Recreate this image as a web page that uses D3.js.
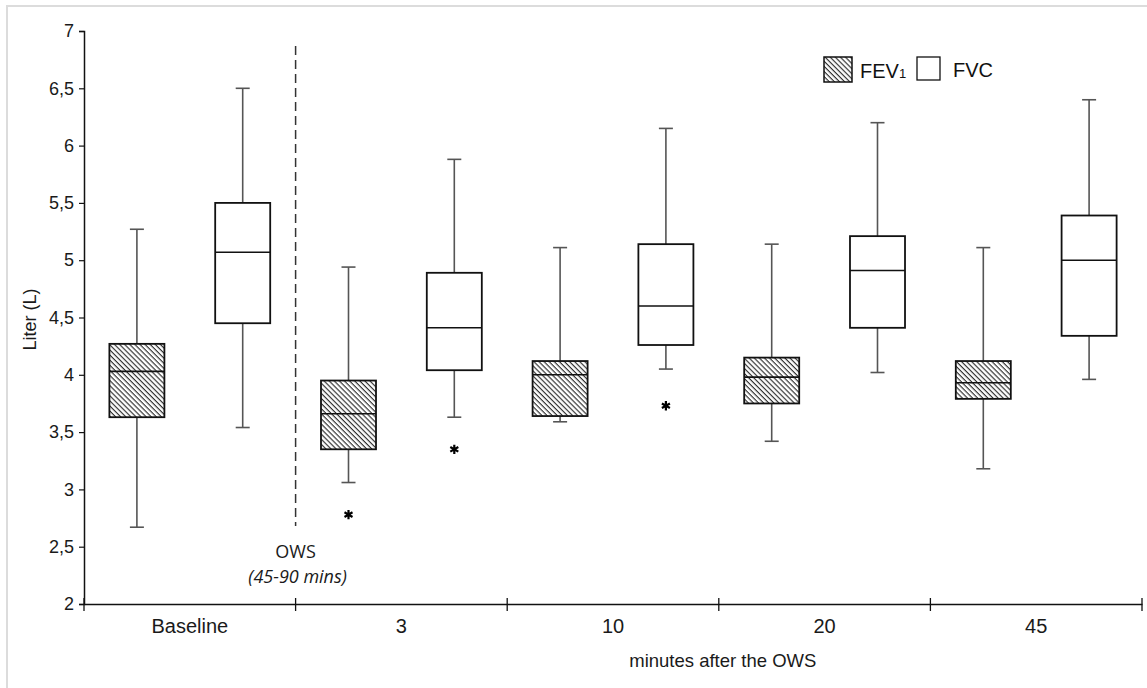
<!DOCTYPE html>
<html>
<head>
<meta charset="utf-8">
<script src="https://cdn.jsdelivr.net/npm/d3@7"></script>
<style>
	body { margin: 0; background: #fff; }
	svg { display: block; font-family: "Liberation Sans", Arial, sans-serif; }
</style>
</head>
<body>
<svg id="chart" width="1147" height="688"></svg>
<script>

// groups on the x axis
var groups = ['Baseline', '3', '10', '20', '45'];
var series = ['FEV1', 'FVC'];

// FEV1 box values (liter)
var fev1Min = [2.67, 3.06, 3.59, 3.42, 3.18];
var fev1Q1  = [3.63, 3.35, 3.64, 3.75, 3.79];
var fev1Med = [4.03, 3.66, 4.00, 3.98, 3.93];
var fev1Q3  = [4.27, 3.95, 4.12, 4.15, 4.12];
var fev1Max = [5.27, 4.94, 5.11, 5.14, 5.11];

// FVC box values (liter)
var fvcMin = [3.54, 3.63, 4.05, 4.02, 3.96];
var fvcQ1  = [4.45, 4.04, 4.26, 4.41, 4.34];
var fvcMed = [5.07, 4.41, 4.60, 4.91, 5.00];
var fvcQ3  = [5.50, 4.89, 5.14, 5.21, 5.39];
var fvcMax = [6.50, 5.88, 6.15, 6.20, 6.40];

// outliers shown as stars
var outGroup  = ['3', '3', '10'];
var outSeries = ['FEV1', 'FVC', 'FVC'];
var outValue  = [2.78, 3.35, 3.73];

var yTicks = [2, 2.5, 3, 3.5, 4, 4.5, 5, 5.5, 6, 6.5, 7];

var drawChart = function (id) {

	var svg = d3.select(id);

	var left = 84, right = 1142, top = 31, bottom = 604;

	// light frame round the figure
	svg.append('rect')
		.attr('x', 7).attr('y', 6)
		.attr('width', 1170).attr('height', 720)
		.attr('fill', 'none')
		.attr('stroke', '#dcdcdc')
		.attr('stroke-width', 2);

	var defs = svg.append('defs');
	var pat = defs.append('pattern')
		.attr('id', 'hatch')
		.attr('patternUnits', 'userSpaceOnUse')
		.attr('width', 3.6)
		.attr('height', 3.6)
		.attr('patternTransform', 'rotate(45)');
	pat.append('rect').attr('width', 3.6).attr('height', 3.6).attr('fill', 'white');
	pat.append('line')
		.attr('x1', 0).attr('y1', 0.6)
		.attr('x2', 3.6).attr('y2', 0.6)
		.attr('stroke', '#222')
		.attr('stroke-width', 1.1);

	var x = d3.scaleBand().domain(groups).range([left, right]).padding(0);
	var xs = d3.scaleBand().domain(series).range([0, x.bandwidth()])
		.paddingInner(0.48).paddingOuter(0.24);
	var y = d3.scaleLinear().domain([2, 7]).range([bottom, top]);

	// y axis
	var yAxis = d3.axisLeft(y)
		.tickValues(yTicks)
		.tickSize(5)
		.tickPadding(5)
		.tickFormat(function (d) { return String(d).replace('.', ','); });
	var gy = svg.append('g')
		.attr('transform', 'translate(' + left + ',0)')
		.call(yAxis);
	gy.select('.domain').attr('stroke', '#111').attr('stroke-width', 1.5);
	gy.selectAll('.tick line').attr('stroke', '#111').attr('stroke-width', 1.2);
	gy.selectAll('.tick text')
		.attr('font-size', 18)
		.attr('fill', '#1a1a1a')
		.attr('font-family', '"Liberation Sans", Arial, sans-serif');

	// x axis: labels at band centres, ticks at band edges
	var xAxis = d3.axisBottom(x).tickSize(0).tickPadding(15);
	var gx = svg.append('g')
		.attr('transform', 'translate(0,' + bottom + ')')
		.call(xAxis);
	gx.select('.domain').attr('stroke', '#111').attr('stroke-width', 1.5);
	gx.selectAll('.tick text')
		.attr('font-size', 20)
		.attr('fill', '#1a1a1a')
		.attr('font-family', '"Liberation Sans", Arial, sans-serif');

	var edges = groups.map(function (g) { return x(g); });
	edges.push(right);
	svg.append('g').selectAll('line')
		.data(edges)
		.enter()
		.append('line')
		.attr('x1', function (d) { return d; })
		.attr('x2', function (d) { return d; })
		.attr('y1', bottom - 6)
		.attr('y2', bottom + 7)
		.attr('stroke', '#111')
		.attr('stroke-width', 1.3);

	// dashed OWS separator
	svg.append('line')
		.attr('x1', x('3')).attr('x2', x('3'))
		.attr('y1', y(6.87)).attr('y2', y(2.68))
		.attr('stroke', '#333')
		.attr('stroke-width', 1.5)
		.attr('stroke-dasharray', '9,5');

	svg.append('text')
		.attr('x', x('3'))
		.attr('y', bottom - 46)
		.attr('text-anchor', 'middle')
		.attr('font-family', '"Open Sans", sans-serif')
		.attr('font-size', 18)
		.attr('fill', '#1a1a1a')
		.text('OWS');
	svg.append('text')
		.attr('x', x('3') + 2)
		.attr('y', bottom - 21)
		.attr('text-anchor', 'middle')
		.attr('font-family', '"Open Sans", sans-serif')
		.attr('font-style', 'italic')
		.attr('font-size', 18)
		.attr('fill', '#1a1a1a')
		.text('(45-90 mins)');

	// axis titles
	svg.append('text')
		.attr('transform', 'translate(36,' + (y(4.5) + 2) + ') rotate(-90)')
		.attr('text-anchor', 'middle')
		.attr('font-size', 18)
		.attr('fill', '#1a1a1a')
		.text('Liter (L)');

	svg.append('text')
		.attr('x', (x('10') + x('20') + x.bandwidth()) / 2 + 4)
		.attr('y', bottom + 63)
		.attr('text-anchor', 'middle')
		.attr('font-size', 18.5)
		.attr('fill', '#1a1a1a')
		.text('minutes after the OWS');

	// build box rows from the arrays
	var boxes = [];
	groups.forEach(function (g, i) {
		boxes.push({ g: g, s: 'FEV1', min: fev1Min[i], q1: fev1Q1[i], med: fev1Med[i], q3: fev1Q3[i], max: fev1Max[i] });
		boxes.push({ g: g, s: 'FVC', min: fvcMin[i], q1: fvcQ1[i], med: fvcMed[i], q3: fvcQ3[i], max: fvcMax[i] });
	});

	var cx = function (d) { return x(d.g) + xs(d.s) + xs.bandwidth() / 2; };
	var capW = 7;

	var b = svg.append('g').selectAll('g')
		.data(boxes)
		.enter()
		.append('g');

	// whiskers
	b.append('line')
		.attr('x1', cx).attr('x2', cx)
		.attr('y1', function (d) { return y(d.max); })
		.attr('y2', function (d) { return y(d.q3); })
		.attr('stroke', '#555').attr('stroke-width', 1.6);
	b.append('line')
		.attr('x1', cx).attr('x2', cx)
		.attr('y1', function (d) { return y(d.q1); })
		.attr('y2', function (d) { return y(d.min); })
		.attr('stroke', '#555').attr('stroke-width', 1.6);
	b.append('line')
		.attr('x1', function (d) { return cx(d) - capW; })
		.attr('x2', function (d) { return cx(d) + capW; })
		.attr('y1', function (d) { return y(d.max); })
		.attr('y2', function (d) { return y(d.max); })
		.attr('stroke', '#555').attr('stroke-width', 1.6);
	b.append('line')
		.attr('x1', function (d) { return cx(d) - capW; })
		.attr('x2', function (d) { return cx(d) + capW; })
		.attr('y1', function (d) { return y(d.min); })
		.attr('y2', function (d) { return y(d.min); })
		.attr('stroke', '#555').attr('stroke-width', 1.6);

	// boxes
	b.append('rect')
		.attr('x', function (d) { return x(d.g) + xs(d.s); })
		.attr('y', function (d) { return y(d.q3); })
		.attr('width', xs.bandwidth())
		.attr('height', function (d) { return y(d.q1) - y(d.q3); })
		.attr('fill', function (d) { return d.s === 'FEV1' ? 'url(#hatch)' : 'white'; })
		.attr('stroke', '#111')
		.attr('stroke-width', 1.8);

	b.append('line')
		.attr('x1', function (d) { return x(d.g) + xs(d.s); })
		.attr('x2', function (d) { return x(d.g) + xs(d.s) + xs.bandwidth(); })
		.attr('y1', function (d) { return y(d.med); })
		.attr('y2', function (d) { return y(d.med); })
		.attr('stroke', '#111')
		.attr('stroke-width', 1.6);

	// outlier stars
	var outs = outValue.map(function (v, i) { return { g: outGroup[i], s: outSeries[i], v: v }; });
	svg.append('g').selectAll('path')
		.data(outs)
		.enter()
		.append('path')
		.attr('d', d3.symbol(d3.symbolAsterisk, 60))
		.attr('transform', function (d) { return 'translate(' + cx(d) + ',' + y(d.v) + ')'; })
		.attr('fill', 'none')
		.attr('stroke', '#000')
		.attr('stroke-width', 2.2);

	// legend
	var lg = svg.append('g');
	lg.append('rect')
		.attr('x', 824).attr('y', 57).attr('width', 28).attr('height', 25)
		.attr('fill', 'url(#hatch)').attr('stroke', '#111').attr('stroke-width', 1.5);
	var t = lg.append('text')
		.attr('x', 860).attr('y', 78)
		.attr('font-size', 20)
		.attr('fill', '#111');
	t.append('tspan').text('FEV');
	t.append('tspan').attr('font-size', 13).text('1');
	lg.append('rect')
		.attr('x', 917).attr('y', 57).attr('width', 23).attr('height', 23)
		.attr('fill', 'white').attr('stroke', '#111').attr('stroke-width', 1.3);
	lg.append('text')
		.attr('x', 953).attr('y', 77)
		.attr('font-size', 20)
		.attr('fill', '#111')
		.text('FVC');
};

window.onload = function () {
	drawChart('#chart');
};
</script>
</body>
</html>
